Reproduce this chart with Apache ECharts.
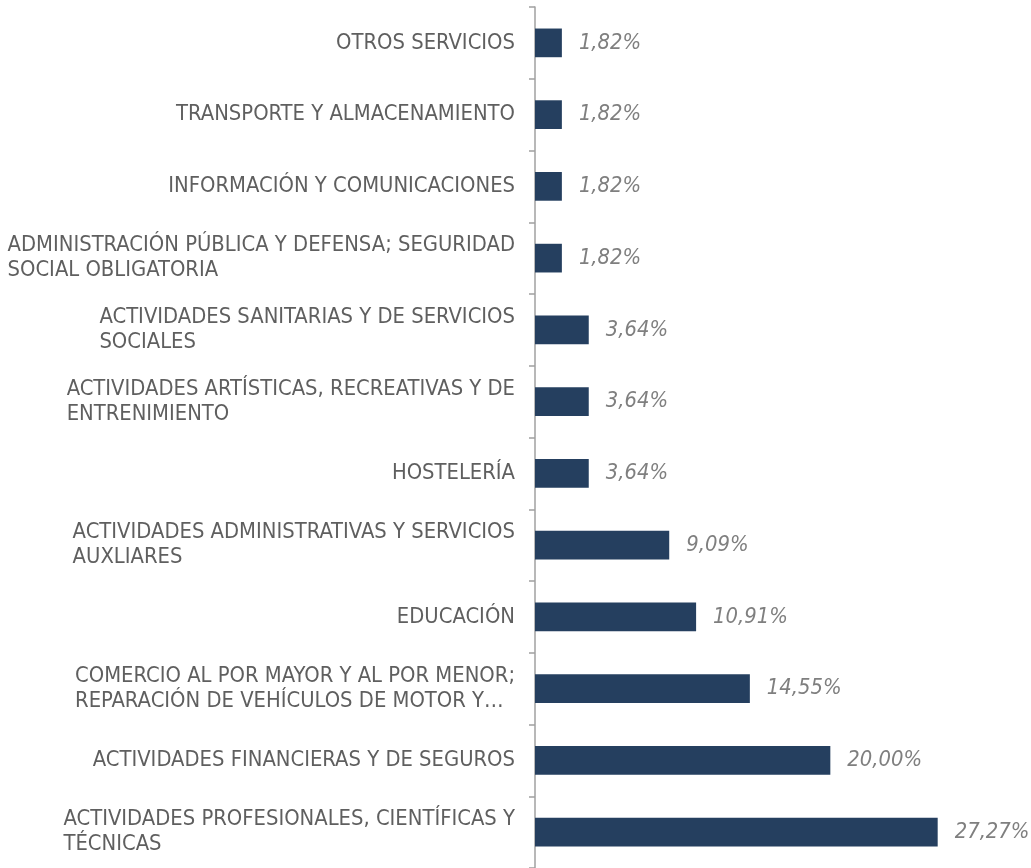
<!DOCTYPE html>
<html>
<head>
<meta charset="utf-8">
<script src="https://cdn.jsdelivr.net/npm/echarts@6/dist/echarts.min.js"></script>
<style>
    html, body { margin: 0; padding: 0; background: #fff; }
    #chart { width: 1031px; height: 868px; }
</style>
</head>
<body>
<div id="chart"></div>
<script>
// sectores, de arriba a abajo
var sectores = [
    'OTROS SERVICIOS',
    'TRANSPORTE Y ALMACENAMIENTO',
    'INFORMACIÓN Y COMUNICACIONES',
    'ADMINISTRACIÓN PÚBLICA Y DEFENSA; SEGURIDAD\nSOCIAL OBLIGATORIA',
    'ACTIVIDADES SANITARIAS Y DE SERVICIOS\nSOCIALES',
    'ACTIVIDADES ARTÍSTICAS, RECREATIVAS Y DE\nENTRENIMIENTO',
    'HOSTELERÍA',
    'ACTIVIDADES ADMINISTRATIVAS Y SERVICIOS\nAUXLIARES',
    'EDUCACIÓN',
    'COMERCIO AL POR MAYOR Y AL POR MENOR;\nREPARACIÓN DE VEHÍCULOS DE MOTOR Y…',
    'ACTIVIDADES FINANCIERAS Y DE SEGUROS',
    'ACTIVIDADES PROFESIONALES, CIENTÍFICAS Y\nTÉCNICAS'
]
var porcentajes = [1.82, 1.82, 1.82, 1.82, 3.64, 3.64, 3.64, 9.09, 10.91, 14.55, 20.00, 27.27]

// no hay Arial Narrow, la condensada de DejaVu ocupa lo mismo
var fuente = '"DejaVu Sans Condensed", "Liberation Sans", sans-serif'

var chart = echarts.init(document.getElementById('chart'))

var option = {
    animation: false,
    grid: {
        left: 535,
        right: 53,
        top: 7,
        bottom: -6
    },
    xAxis: {
        type: 'value',
        min: 0,
        max: 30,
        show: false
    },
    yAxis: {
        type: 'category',
        inverse: true,
        data: sectores,
        axisLine: { show: true, lineStyle: { color: '#a0a0a0', width: 1.5 } },
        axisTick: { show: true, length: 6, lineStyle: { color: '#a0a0a0', width: 1.5 } },
        axisLabel: {
            margin: 20,
            align: 'right',
            fontFamily: fuente,
            fontSize: 21.8,
            color: '#5f5f5f',
            lineHeight: 25,
            formatter: function (v) {
                return v.split('\n').map(function (l) { return '{a|' + l + '}' }).join('\n')
            },
            rich: {
                a: {
                    align: 'left',
                    fontFamily: fuente,
                    fontSize: 21.8,
                    color: '#5f5f5f',
                    lineHeight: 25
                }
            }
        }
    },
    series: [
        {
            type: 'bar',
            data: porcentajes,
            barCategoryGap: '60%',
            itemStyle: { color: '#253f5f' },
            label: {
                show: true,
                position: 'right',
                distance: 17,
                fontFamily: fuente,
                fontStyle: 'italic',
                fontSize: 21.8,
                color: '#7f7f7f',
                formatter: function (p) {
                    return p.value.toFixed(2).replace('.', ',') + '%'
                }
            }
        }
    ]
}
chart.setOption(option)
</script>
</body>
</html>
